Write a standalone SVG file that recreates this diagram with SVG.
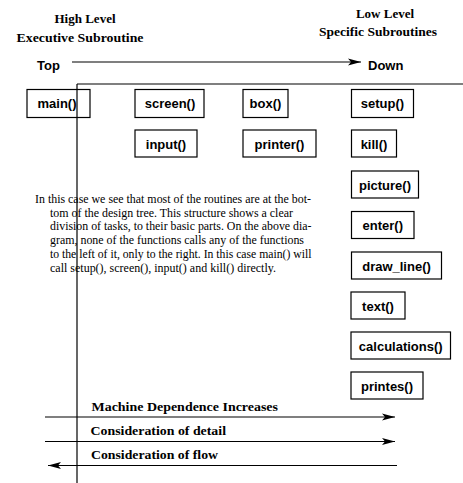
<svg xmlns="http://www.w3.org/2000/svg" width="463" height="483" viewBox="0 0 463 483">
<style>
.bx{fill:#fff;stroke:#000;stroke-width:1.2}
.lb{font-family:"Liberation Sans",Arial,sans-serif;font-weight:bold;font-size:13px;text-anchor:middle}
.hd{font-family:"Liberation Serif","Times New Roman",serif;font-weight:bold;font-size:13px;text-anchor:middle}
.bt{font-family:"Liberation Serif","Times New Roman",serif;font-weight:bold;font-size:13.5px}
.tx{font-family:"Liberation Serif","Times New Roman",serif;font-size:12px}
.ln{stroke:#000;stroke-width:1.2;fill:none}
</style>
<defs>
<marker id="ah" markerWidth="14" markerHeight="8" refX="13" refY="4" orient="auto" markerUnits="userSpaceOnUse">
<polygon points="0,0.5 13,4 0,7.5 3,4" fill="#000"/>
</marker>
</defs>
<g id="headings">
<text class="hd" x="85" y="23">High Level</text>
<text class="hd" x="80" y="42" textLength="127" lengthAdjust="spacingAndGlyphs">Executive Subroutine</text>
<text class="hd" x="385" y="18">Low Level</text>
<text class="hd" x="378" y="36" textLength="118" lengthAdjust="spacingAndGlyphs">Specific Subroutines</text>
<text class="lb" x="37" y="70" style="text-anchor:start">Top</text>
<text class="lb" x="368" y="70" style="text-anchor:start">Down</text>
</g>
<g id="connectors">
<line class="ln" x1="72" y1="62" x2="361" y2="62" marker-end="url(#ah)"/>
<line class="ln" x1="77" y1="84" x2="463" y2="84"/>
<line class="ln" x1="77" y1="84" x2="77" y2="483"/>
<line class="ln" x1="45" y1="417" x2="395" y2="417" marker-end="url(#ah)"/>
<line class="ln" x1="45" y1="441.5" x2="395" y2="441.5" marker-end="url(#ah)"/>
<line class="ln" x1="397" y1="465.5" x2="48" y2="465.5" marker-end="url(#ah)"/>
</g>
<g id="main"><rect class="bx" x="27" y="89.5" width="63" height="28" style="fill:none"/><text class="lb" x="57" y="108">main()</text></g>
<g id="screen"><rect class="bx" x="135" y="89.5" width="69" height="28"/><text class="lb" x="170" y="108">screen()</text></g>
<g id="box"><rect class="bx" x="243" y="89.5" width="45" height="28"/><text class="lb" x="265.5" y="108">box()</text></g>
<g id="setup"><rect class="bx" x="351.5" y="89.5" width="62" height="28"/><text class="lb" x="382.5" y="108">setup()</text></g>
<g id="input"><rect class="bx" x="135" y="130" width="62" height="27"/><text class="lb" x="166" y="148.5">input()</text></g>
<g id="printer"><rect class="bx" x="243" y="130" width="73" height="27"/><text class="lb" x="279.5" y="148.5">printer()</text></g>
<g id="kill"><rect class="bx" x="351.5" y="130" width="45" height="27"/><text class="lb" x="374" y="148.5">kill()</text></g>
<g id="picture"><rect class="bx" x="351.5" y="171" width="67" height="27"/><text class="lb" x="385" y="189.5">picture()</text></g>
<g id="enter"><rect class="bx" x="351.5" y="211.5" width="62.5" height="27"/><text class="lb" x="382.75" y="230">enter()</text></g>
<g id="draw_line"><rect class="bx" x="351.5" y="252" width="90" height="27"/><text class="lb" x="396.5" y="270.5">draw_line()</text></g>
<g id="text"><rect class="bx" x="351" y="292" width="54" height="27"/><text class="lb" x="378" y="310.5">text()</text></g>
<g id="calculations"><rect class="bx" x="351" y="332" width="99.5" height="27"/><text class="lb" x="400.75" y="350.5">calculations()</text></g>
<g id="printes"><rect class="bx" x="351" y="372" width="72" height="27"/><text class="lb" x="387" y="390.5">printes()</text></g>
<g id="paragraph">
<text class="tx" x="35" y="203" textLength="276" lengthAdjust="spacingAndGlyphs">In this case we see that most of the routines are at the bot-</text>
<text class="tx" x="50" y="216.7" textLength="243" lengthAdjust="spacingAndGlyphs">tom of the design tree. This structure shows a clear</text>
<text class="tx" x="50" y="230.4" textLength="261.5" lengthAdjust="spacingAndGlyphs">division of tasks, to their basic parts. On the above dia-</text>
<text class="tx" x="50" y="244.1" textLength="254" lengthAdjust="spacingAndGlyphs">gram, none of the functions calls any of the functions</text>
<text class="tx" x="50" y="257.8" textLength="261.5" lengthAdjust="spacingAndGlyphs">to the left of it, only to the right. In this case main() will</text>
<text class="tx" x="50" y="271.5" textLength="226" lengthAdjust="spacingAndGlyphs">call setup(), screen(), input() and kill() directly.</text>
</g>
<g id="bottom-labels">
<text class="bt" x="91.5" y="411" textLength="186.5" lengthAdjust="spacingAndGlyphs">Machine Dependence Increases</text>
<text class="bt" x="90.5" y="435" textLength="135.5" lengthAdjust="spacingAndGlyphs">Consideration of detail</text>
<text class="bt" x="91" y="459" textLength="127" lengthAdjust="spacingAndGlyphs">Consideration of flow</text>
</g>
</svg>
